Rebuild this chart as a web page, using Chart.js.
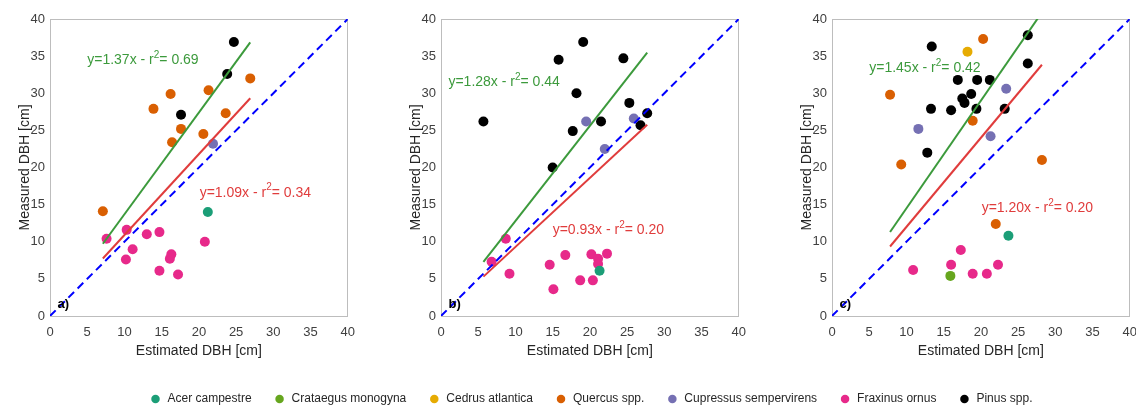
<!DOCTYPE html>
<html>
<head>
<meta charset="utf-8">
<script src="https://cdn.jsdelivr.net/npm/chart.js@4"></script>
<style>
  body { margin: 0; background: #fff; width: 1136px; height: 408px; overflow: hidden; position: relative; font-family: "Liberation Sans", Arial, sans-serif; }
  .panel { position: absolute; top: 0; width: 364px; height: 370px; }
  #legendBox { position: absolute; left: 0; top: 371px; width: 1136px; height: 90px; }
</style>
</head>
<body>
<div class="panel" style="left:0px"><canvas id="chartA"></canvas></div>
<div class="panel" style="left:391px"><canvas id="chartB"></canvas></div>
<div class="panel" style="left:782px"><canvas id="chartC"></canvas></div>
<div id="legendBox"><canvas id="legendChart"></canvas></div>
<script>
// species names and their colours (legend order)
const species = ["Acer campestre", "Crataegus monogyna", "Cedrus atlantica", "Quercus spp.",
  "Cupressus sempervirens", "Fraxinus ornus", "Pinus spp."];
const speciesColors = ["#1b9e77", "#66a61e", "#e6ab02", "#d95f02", "#7570b3", "#e7298a", "#000000"];

// panel a) : estimated DBH, measured DBH, species index
const aEst = [24.7, 23.8, 17.6, 26.9, 21.3, 16.2, 13.9, 23.6, 17.6, 20.6, 16.4, 7.1, 21.9, 21.2,
  7.6, 10.3, 13.0, 14.7, 11.1, 10.2, 16.3, 16.1, 14.7, 17.2, 20.8];
const aMeas = [36.9, 32.6, 27.1, 32.0, 30.4, 29.9, 27.9, 27.3, 25.2, 24.5, 23.4, 14.1, 23.2, 14.0,
  10.4, 11.6, 11.0, 11.3, 9.0, 7.6, 8.3, 7.7, 6.1, 5.6, 10.0];
const aSp = [6, 6, 6, 3, 3, 3, 3, 3, 3, 3, 3, 3, 4, 0,
  5, 5, 5, 5, 5, 5, 5, 5, 5, 5, 5];

// panel b)
const bEst = [5.7, 15.0, 15.8, 19.1, 18.2, 17.7, 21.5, 24.5, 25.3, 26.8, 27.7,
  19.5, 25.9, 22.0,
  8.7, 6.8, 9.2, 14.6, 15.1, 16.7, 18.7, 20.2, 20.4, 21.1, 21.1, 22.3, 21.3];
const bMeas = [26.2, 20.0, 34.5, 36.9, 30.0, 24.9, 26.2, 34.7, 28.7, 25.7, 27.3,
  26.2, 26.6, 22.5,
  10.4, 7.3, 5.7, 6.9, 3.6, 8.2, 4.8, 8.3, 4.8, 7.7, 7.0, 8.4, 6.1];
const bSp = [6, 6, 6, 6, 6, 6, 6, 6, 6, 6, 6,
  4, 4, 4,
  5, 5, 5, 5, 5, 5, 5, 5, 5, 5, 5, 5, 0];

// panel c)
const cEst = [13.4, 26.3, 26.3, 16.9, 19.5, 21.2, 18.7, 17.5, 17.8, 13.3, 16.0, 19.4, 23.2, 12.8,
  20.3, 7.8, 18.9, 9.3, 28.2, 22.0,
  18.2,
  23.4, 11.6, 21.3,
  23.7, 15.9,
  17.3, 16.0, 10.9, 18.9, 20.8, 22.3];
const cMeas = [36.3, 37.8, 34.0, 31.8, 31.8, 31.8, 29.9, 29.3, 28.7, 27.9, 27.7, 27.9, 27.9, 22.0,
  37.3, 29.8, 26.3, 20.4, 21.0, 12.4,
  35.6,
  30.6, 25.2, 24.2,
  10.8, 5.4,
  8.9, 6.9, 6.2, 5.7, 5.7, 6.9];
const cSp = [6, 6, 6, 6, 6, 6, 6, 6, 6, 6, 6, 6, 6, 6,
  3, 3, 3, 3, 3, 3,
  2,
  4, 4, 4,
  0, 1,
  5, 5, 5, 5, 5, 5];

// fitted slopes and r2 : [green, red]
const aSlopes = [1.37, 1.09], aR2 = ["0.69", "0.34"];
const bSlopes = [1.28, 0.93], bR2 = ["0.44", "0.20"];
const cSlopes = [1.45, 1.20], cR2 = ["0.42", "0.20"];

// where the equation text sits, in data units [x, y] : green, red
const aTextAt = [[5.0, 34.5], [20.1, 16.6]];
const bTextAt = [[1.0, 31.5], [15.0, 11.6]];
const cTextAt = [[5.0, 33.4], [20.1, 14.5]];

const axisTicks = [0, 5, 10, 15, 20, 25, 30, 35, 40];
const fitColors = ["#3c9a3c", "#e03c3c"];
const FONT = "'Liberation Sans', Arial, sans-serif";

// write equation labels and the panel letter
const labelPlugin = {
  id: "eqLabels",
  afterDatasetsDraw(chart) {
    const opts = chart.options.plugins.eqLabels;
    const ctx = chart.ctx;
    const xs = chart.scales.x, ys = chart.scales.y;
    ctx.save();
    ctx.textBaseline = "middle";
    ctx.textAlign = "left";
    opts.slopes.forEach((s, i) => {
      let px = xs.getPixelForValue(opts.textAt[i][0]);
      const py = ys.getPixelForValue(opts.textAt[i][1]);
      ctx.fillStyle = fitColors[i];
      ctx.font = "14px " + FONT;
      const part1 = "y=" + s.toFixed(2) + "x - r";
      ctx.fillText(part1, px, py);
      px += ctx.measureText(part1).width;
      ctx.font = "10px " + FONT;
      ctx.fillText("2", px, py - 5);
      px += ctx.measureText("2").width;
      ctx.font = "14px " + FONT;
      ctx.fillText("= " + opts.r2[i], px, py);
    });
    ctx.fillStyle = "#000";
    ctx.font = "bold 13px " + FONT;
    ctx.fillText(opts.letter, xs.getPixelForValue(1.0), ys.getPixelForValue(1.6));
    ctx.restore();
  }
};

function makePanel(id, est, meas, sp, slopes, r2, textAt, letter) {
  const datasets = [];
  // one scatter set per species
  species.forEach((name, k) => {
    const pts = [];
    est.forEach((x, i) => { if (sp[i] === k) pts.push({ x: x, y: meas[i] }); });
    if (pts.length) {
      datasets.push({
        type: "scatter", label: name, data: pts,
        backgroundColor: speciesColors[k], borderColor: speciesColors[k],
        pointRadius: 5, pointHoverRadius: 5, borderWidth: 0, order: 3
      });
    }
  });
  // 1:1 line
  datasets.push({
    type: "line", label: "1:1", data: [{ x: 0, y: 0 }, { x: 40, y: 40 }],
    borderColor: "#0000ff", borderWidth: 2, borderDash: [8, 5], pointRadius: 0, order: 2
  });
  // regression lines over the data range
  const xmin = Math.min(...est), xmax = Math.max(...est);
  slopes.forEach((s, i) => {
    datasets.push({
      type: "line", label: "fit" + i,
      data: [{ x: xmin, y: s * xmin }, { x: xmax, y: s * xmax }],
      borderColor: fitColors[i], borderWidth: 2, pointRadius: 0, order: 1
    });
  });

  new Chart(document.getElementById(id), {
    type: "scatter",
    data: { datasets: datasets },
    plugins: [labelPlugin],
    options: {
      responsive: true,
      maintainAspectRatio: false,
      animation: false,
      layout: { padding: { top: 19, right: 3, left: 0, bottom: 0 } },
      plugins: {
        legend: { display: false },
        tooltip: { enabled: false },
        eqLabels: { slopes: slopes, r2: r2, textAt: textAt, letter: letter }
      },
      scales: {
        x: {
          type: "linear", position: "bottom", min: 0, max: 40,
          afterBuildTicks: (s) => { s.ticks = axisTicks.map(v => ({ value: v })); },
          afterFit: (s) => { s.height = 54; },
          grid: { display: false, drawTicks: false },
          border: { color: "#bdbdbd", width: 1 },
          ticks: { color: "#404040", padding: 9, font: { size: 13, family: FONT }, maxRotation: 0 },
          title: { display: true, text: "Estimated DBH [cm]", color: "#262626",
            font: { size: 14, family: FONT }, padding: { top: 0, bottom: 10 } }
        },
        y: {
          type: "linear", position: "left", min: 0, max: 40,
          afterBuildTicks: (s) => { s.ticks = axisTicks.map(v => ({ value: v })); },
          afterFit: (s) => { s.width = 50; },
          grid: { display: false, drawTicks: false },
          border: { color: "#bdbdbd", width: 1 },
          ticks: { color: "#404040", padding: 5, font: { size: 13, family: FONT } },
          title: { display: true, text: "Measured DBH [cm]", color: "#262626",
            font: { size: 14, family: FONT }, padding: { top: 17, bottom: 0 } }
        },
        x2: {
          type: "linear", position: "top", min: 0, max: 40,
          afterFit: (s) => { s.height = 0; },
          grid: { display: false, drawTicks: false }, ticks: { display: false },
          border: { color: "#bdbdbd", width: 1 }
        },
        y2: {
          type: "linear", position: "right", min: 0, max: 40,
          afterFit: (s) => { s.width = 0; },
          grid: { display: false, drawTicks: false }, ticks: { display: false },
          border: { color: "#bdbdbd", width: 1 }
        }
      }
    }
  });
}

makePanel("chartA", aEst, aMeas, aSp, aSlopes, aR2, aTextAt, "a)");
makePanel("chartB", bEst, bMeas, bSp, bSlopes, bR2, bTextAt, "b)");
makePanel("chartC", cEst, cMeas, cSp, cSlopes, cR2, cTextAt, "c)");

// shared legend
new Chart(document.getElementById("legendChart"), {
  type: "scatter",
  data: {
    datasets: species.map((name, k) => ({
      label: name, data: [], backgroundColor: speciesColors[k], borderColor: speciesColors[k], borderWidth: 0
    }))
  },
  options: {
    responsive: true,
    maintainAspectRatio: false,
    animation: false,
    layout: { padding: { top: 0, left: 46, right: 0 } },
    scales: { x: { display: false }, y: { display: false } },
    plugins: {
      tooltip: { enabled: false },
      legend: {
        display: true, position: "top",
        labels: {
          usePointStyle: true, pointStyle: "circle", boxWidth: 12, boxHeight: 6,
          padding: 22, color: "#262626", font: { size: 12, family: FONT }
        }
      }
    }
  }
});
</script>
</body>
</html>
